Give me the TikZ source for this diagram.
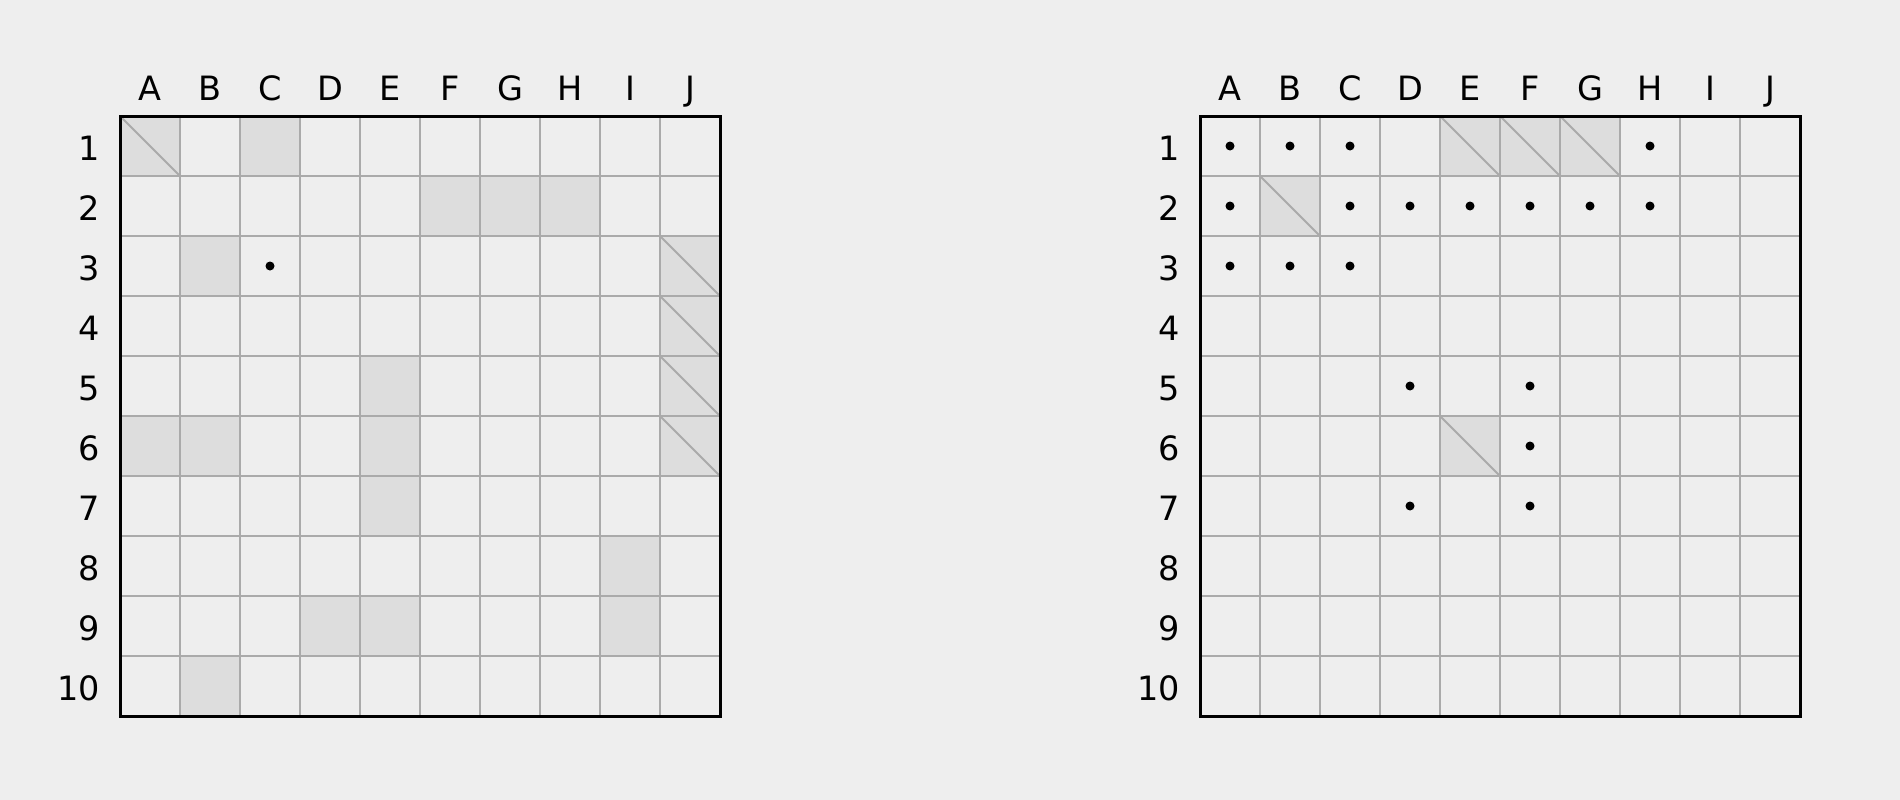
\documentclass[tikz,border=0pt]{standalone}
\usepackage{fontspec}
\setmainfont{DejaVu Sans}
\definecolor{bgc}{HTML}{EEEEEE}
\definecolor{shc}{HTML}{DDDDDD}
\definecolor{lnc}{HTML}{AAAAAA}
\tikzset{
  shadecell/.style={fill=shc},
  gridline/.style={draw=lnc,line width=2pt},
  framebox/.style={draw=black,line width=3pt},
  lblfont/.style={font=\fontsize{33.5}{40}\selectfont,inner sep=0pt},
  collabel/.style={lblfont,anchor=base},
  rowlabel/.style={lblfont,anchor=base east},
  dotmark/.style={fill=black,circle,minimum size=9pt,inner sep=0pt,draw=none}
}
\begin{document}
\begin{tikzpicture}[x=1pt,y=-1pt]
\fill[bgc] (0,0) rectangle (1900,800);
% ---------------- left grid ----------------
\begin{scope}[shift={(120,116)}]
  \foreach \c/\r in {1/1,3/1,6/2,7/2,8/2,2/3,10/3,10/4,5/5,10/5,1/6,2/6,5/6,10/6,5/7,9/8,4/9,5/9,9/9,2/10}
    \fill[shadecell] ({60*(\c-1)},{60*(\r-1)}) rectangle ++(60,60);
  \foreach \i in {1,...,9} {
    \draw[gridline] ({60*\i},0) -- ({60*\i},600);
    \draw[gridline] (0,{60*\i}) -- (600,{60*\i});
  }
  \foreach \c/\r in {1/1,10/3,10/4,10/5,10/6}
    \draw[gridline] ({60*(\c-1)},{60*(\r-1)}) -- ++(60,60);
  \draw[framebox] (0,0) rectangle (600,600);
  \foreach \c/\r in {3/3}
    \node[dotmark] (Ldot-\c-\r) at ({60*\c-30},{60*\r-30}) {};
  \foreach \c/\l in {1/A,2/B,3/C,4/D,5/E,6/F,7/G,8/H,9/I,10/J}
    \node[collabel] (Lcol-\l) at ({60*\c-30},-15.5) {\l};
  \foreach \r in {1,...,10}
    \node[rowlabel] (Lrow-\r) at (-20,{60*\r-15.5}) {\r};
\end{scope}
% ---------------- right grid ----------------
\begin{scope}[shift={(1200,116)}]
  \foreach \c/\r in {5/1,6/1,7/1,2/2,5/6}
    \fill[shadecell] ({60*(\c-1)},{60*(\r-1)}) rectangle ++(60,60);
  \foreach \i in {1,...,9} {
    \draw[gridline] ({60*\i},0) -- ({60*\i},600);
    \draw[gridline] (0,{60*\i}) -- (600,{60*\i});
  }
  \foreach \c/\r in {5/1,6/1,7/1,2/2,5/6}
    \draw[gridline] ({60*(\c-1)},{60*(\r-1)}) -- ++(60,60);
  \draw[framebox] (0,0) rectangle (600,600);
  \foreach \c/\r in {1/1,2/1,3/1,8/1,1/2,3/2,4/2,5/2,6/2,7/2,8/2,1/3,2/3,3/3,4/5,6/5,6/6,4/7,6/7}
    \node[dotmark] (Rdot-\c-\r) at ({60*\c-30},{60*\r-30}) {};
  \foreach \c/\l in {1/A,2/B,3/C,4/D,5/E,6/F,7/G,8/H,9/I,10/J}
    \node[collabel] (Rcol-\l) at ({60*\c-30},-15.5) {\l};
  \foreach \r in {1,...,10}
    \node[rowlabel] (Rrow-\r) at (-20,{60*\r-15.5}) {\r};
\end{scope}
\end{tikzpicture}
\end{document}
